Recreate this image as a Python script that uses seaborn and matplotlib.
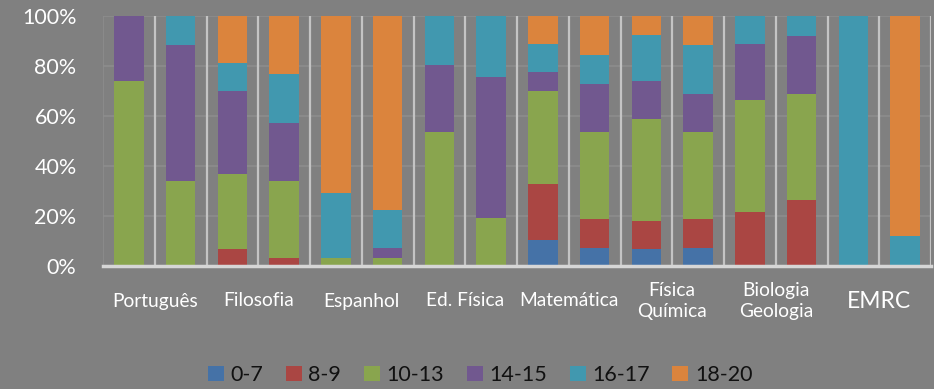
import numpy as np
import pandas as pd
import matplotlib
matplotlib.use("Agg")
import matplotlib.pyplot as plt
from matplotlib.patches import Patch
import matplotlib.transforms as mtransforms
import seaborn as sns

# categories (two bars per subject)
subjects = ["Português", "Filosofia", "Espanhol", "Ed. Física", "Matemática",
            "Física\nQuímica", "Biologia\nGeologia", "EMRC"]
bar_ids = [f"b{i}" for i in range(16)]

series_names = ["0-7", "8-9", "10-13", "14-15", "16-17", "18-20"]
s_0_7 = [0, 0, 0, 0, 0, 0, 0, 0, 10.4, 7.1, 6.7, 7.1, 0, 0, 0, 0]
s_8_9 = [0, 0, 6.7, 3.2, 0, 0, 0, 0, 22.4, 11.6, 11.2, 11.6, 21.6, 26.3, 0, 0]
s_10_13 = [73.9, 34.1, 30.0, 30.9, 3.1, 3.1, 53.5, 19.3, 37.2, 34.8, 41.0, 34.8, 44.8, 42.5, 0, 0]
s_14_15 = [26.1, 54.2, 33.4, 23.1, 0, 4.0, 27.0, 56.3, 7.5, 19.3, 15.0, 15.4, 22.4, 23.3, 0, 0]
s_16_17 = [0, 11.7, 11.1, 19.6, 26.1, 15.4, 19.5, 24.4, 11.3, 11.6, 18.6, 19.4, 11.2, 7.9, 100, 11.9]
s_18_20 = [0, 0, 18.8, 23.2, 70.8, 77.5, 0, 0, 11.2, 15.6, 7.5, 11.7, 0, 0, 0, 88.1]

colors = ["#4572A7", "#AA4643", "#89A54E", "#71588F", "#4198AF", "#DB843D"]
bg = "#808080"

sns.set_theme(style="white")
plt.rcParams["font.family"] = ["Lato", "DejaVu Sans"]

df = pd.DataFrame(
    np.array([s_0_7, s_8_9, s_10_13, s_14_15, s_16_17, s_18_20]).T,
    columns=series_names, index=bar_ids,
)
# 100% stacked
df = df.div(df.sum(axis=1), axis=0) * 100
cum = df.cumsum(axis=1)

fig = plt.figure(figsize=(9.34, 3.89), dpi=100, facecolor=bg)
ax = fig.add_axes([103 / 934, 1 - 266 / 389, 828 / 934, 250 / 389])
ax.set_facecolor(bg)

# horizontal grid
for yv in [20, 40, 60, 80, 100]:
    ax.axhline(yv, color="#8d8d8d", lw=1.2, zorder=0)
# vertical separators between bars
for xv in np.arange(0.5, 15.0, 1):
    ax.axvline(xv, color="#c4c4c4", lw=1.6, zorder=0)
ax.axvline(-0.5, color="#8d8d8d", lw=1.2, zorder=0)
ax.axvline(15.5, color="#c4c4c4", lw=1.6, zorder=0)

# draw from the top layer down so each cumulative bar shows its own segment
for name, col in reversed(list(zip(series_names, colors))):
    sns.barplot(x=bar_ids, y=cum[name].values, order=bar_ids, color=col,
                saturation=1, width=0.57, errorbar=None, linewidth=0, ax=ax)

ax.set_xlim(-0.5, 15.5)
ax.set_ylim(0, 100)
ax.set_yticks([0, 20, 40, 60, 80, 100])
ax.set_yticklabels([f"{v}%" for v in [0, 20, 40, 60, 80, 100]],
                   color="white", fontsize=15.5)
ax.tick_params(axis="y", length=0, pad=19)

ax.set_xticks(np.arange(-0.5, 16, 2))
ax.set_xticklabels([])
ax.tick_params(axis="x", length=7, width=2, color="#d6d6d6", direction="out")
ax.set_xlabel("")
ax.set_ylabel("")

for s in ["top", "right", "left"]:
    ax.spines[s].set_visible(False)
ax.spines["bottom"].set_color("#d6d6d6")
ax.spines["bottom"].set_linewidth(2.5)

trans = mtransforms.blended_transform_factory(ax.transData, ax.transAxes)
for i, lab in enumerate(subjects):
    fs = 16.5 if lab == "EMRC" else 13.8
    ax.text(2 * i + 0.5, -0.14, lab, transform=trans, ha="center", va="center",
            color="white", fontsize=fs, linespacing=1.35)

handles = [Patch(facecolor=c, edgecolor="none") for c in colors]
fig.legend(handles, series_names, loc="center", bbox_to_anchor=(480 / 934, 0.036),
           ncol=6, frameon=False, fontsize=15.5, labelcolor="#111111",
           handlelength=0.75, handleheight=0.75, handletextpad=0.3,
           columnspacing=1.05)

fig.savefig("out.png", dpi=100, facecolor=bg)
